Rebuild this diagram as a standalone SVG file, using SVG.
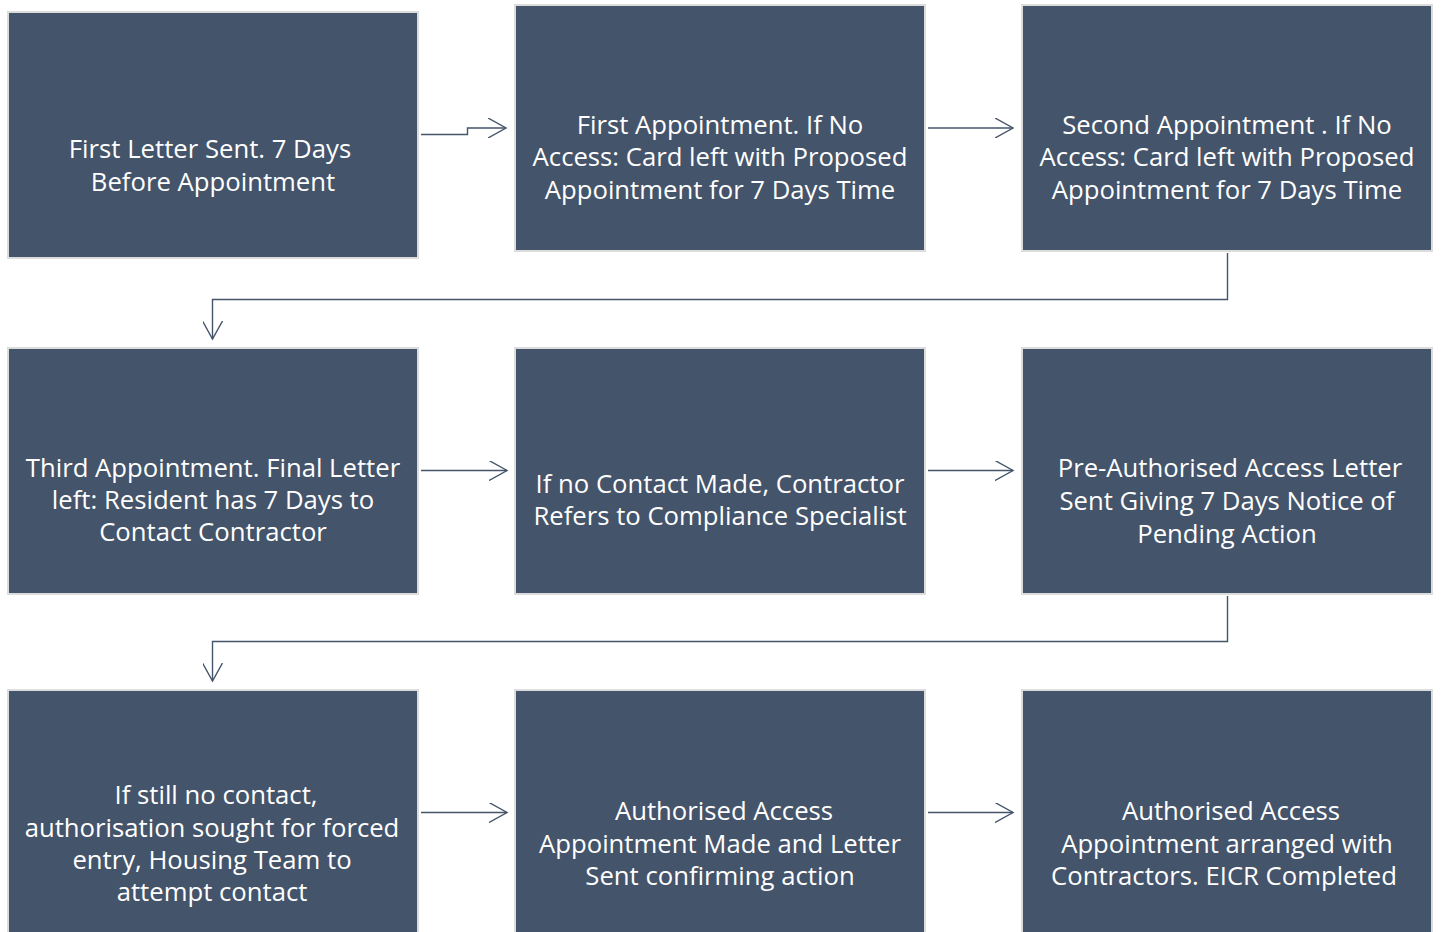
<svg xmlns="http://www.w3.org/2000/svg" width="1442" height="932" viewBox="0 0 1442 932">
<style>
.box{fill:#44546a;stroke:#dcdcdc;stroke-width:2}
.t{fill:#ffffff;font-family:"Open Sans","Liberation Sans",sans-serif;font-size:25.7px;text-anchor:middle}
.c{fill:none;stroke:#44546a;stroke-width:1.4}
</style>
<defs>
<marker id="ah" markerWidth="20" markerHeight="20" refX="18" refY="10" orient="auto" markerUnits="userSpaceOnUse">
<path d="M0,0 L18,10 L0,20" fill="none" stroke="#44546a" stroke-width="1.4"/>
</marker>
</defs>
<rect width="1442" height="932" fill="#ffffff"/>
<g id="connectors">
<path class="c" d="M421,134.5 H467.5 V128 H506" marker-end="url(#ah)"/>
<path class="c" d="M928,128 H1013" marker-end="url(#ah)"/>
<path class="c" d="M1227.5,253 V299.5 H212.5 V339" marker-end="url(#ah)"/>
<path class="c" d="M421,470.5 H507" marker-end="url(#ah)"/>
<path class="c" d="M928,470.5 H1013" marker-end="url(#ah)"/>
<path class="c" d="M1227.5,596 V641.5 H212.5 V681" marker-end="url(#ah)"/>
<path class="c" d="M421,812.5 H507" marker-end="url(#ah)"/>
<path class="c" d="M928,812.5 H1013" marker-end="url(#ah)"/>
</g>
<g id="n1"><rect class="box" x="8" y="12" width="410" height="246"/>
<text class="t" x="210" y="158">First Letter Sent. 7 Days</text>
<text class="t" x="213" y="191">Before Appointment</text></g>
<g id="n2"><rect class="box" x="515" y="5" width="410" height="246"/>
<text class="t" x="720" y="134">First Appointment. If No</text>
<text class="t" x="720" y="166">Access: Card left with Proposed</text>
<text class="t" x="720" y="199">Appointment for 7 Days Time</text></g>
<g id="n3"><rect class="box" x="1022" y="5" width="410" height="246"/>
<text class="t" x="1227" y="134">Second Appointment . If No</text>
<text class="t" x="1227" y="166">Access: Card left with Proposed</text>
<text class="t" x="1227" y="199">Appointment for 7 Days Time</text></g>
<g id="n4"><rect class="box" x="8" y="348" width="410" height="246"/>
<text class="t" x="213" y="477">Third Appointment. Final Letter</text>
<text class="t" x="213" y="509">left: Resident has 7 Days to</text>
<text class="t" x="213" y="541">Contact Contractor</text></g>
<g id="n5"><rect class="box" x="515" y="348" width="410" height="246"/>
<text class="t" x="720" y="493">If no Contact Made, Contractor</text>
<text class="t" x="720" y="525">Refers to Compliance Specialist</text></g>
<g id="n6"><rect class="box" x="1022" y="348" width="410" height="246"/>
<text class="t" x="1230" y="477">Pre-Authorised Access Letter</text>
<text class="t" x="1227" y="510">Sent Giving 7 Days Notice of</text>
<text class="t" x="1227" y="543">Pending Action</text></g>
<g id="n7"><rect class="box" x="8" y="690" width="410" height="246"/>
<text class="t" x="216" y="804">If still no contact,</text>
<text class="t" x="212" y="837">authorisation sought for forced</text>
<text class="t" x="212" y="869">entry, Housing Team to</text>
<text class="t" x="212" y="901">attempt contact</text></g>
<g id="n8"><rect class="box" x="515" y="690" width="410" height="246"/>
<text class="t" x="724" y="820">Authorised Access</text>
<text class="t" x="720" y="853">Appointment Made and Letter</text>
<text class="t" x="720" y="885">Sent confirming action</text></g>
<g id="n9"><rect class="box" x="1022" y="690" width="410" height="246"/>
<text class="t" x="1231" y="820">Authorised Access</text>
<text class="t" x="1227" y="853">Appointment arranged with</text>
<text class="t" x="1224" y="885">Contractors. EICR Completed</text></g>
</svg>
